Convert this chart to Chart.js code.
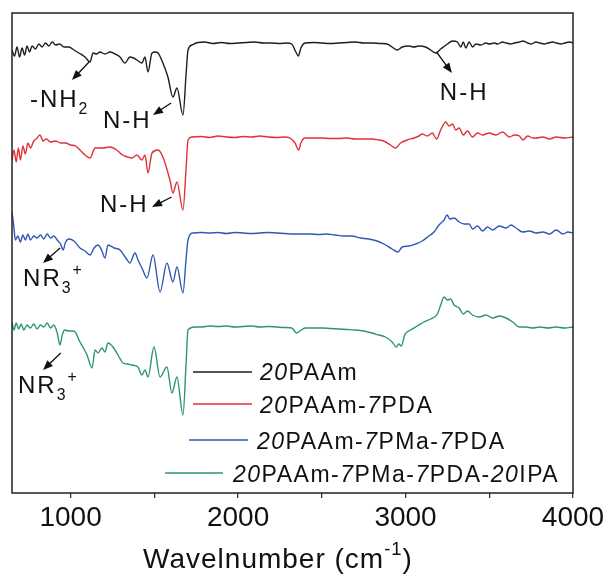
<!DOCTYPE html>
<html>
<head>
<meta charset="utf-8">
<script src="https://cdn.jsdelivr.net/npm/chart.js@4.4.1/dist/chart.umd.min.js"></script>
<style>
  html, body { margin: 0; padding: 0; background: #fff; }
</style>
</head>
<body>
<canvas id="ftir" width="610" height="576"></canvas>
<script>
// FTIR spectra, [wavenumber, transmittance relative to the trace's own baseline]
const seriesNames = ["20PAAm", "20PAAm-7PDA", "20PAAm-7PMa-7PDA", "20PAAm-7PMa-7PDA-20IPA"];
const seriesColors = ["#1e1e1e", "#e0313b", "#2f58b4", "#2b9670"];
const stackOffsets = [450, 356, 260, 166];
const xTicks = [1000, 1500, 2000, 2500, 3000, 3500, 4000];

const specPAAm = [
  [650,-7],[665,-13],[680,-4],[695,-14],[710,-5],[725,-12],[740,-3],[755,-9],[770,-3],[790,-6],
  [810,-1],[830,-4],[850,0],[870,-3],[890,1],[910,-2],[935,-1],[960,-4],[990,-4],[1020,-7],
  [1050,-10],[1086,-14],[1116,-19],[1134,-10],[1155,-11],[1175,-9],[1205,-11],[1235,-9],[1265,-11],[1295,-14],
  [1325,-20],[1354,-14],[1375,-15],[1396,-17],[1426,-20],[1444,-14],[1462,-29],[1486,-10],[1505,-9],[1522,-10],
  [1551,-20],[1581,-34],[1611,-54],[1635,-45],[1671,-72],[1690,-30],[1701,-7],[1725,-2],[1760,0.5],[1800,1],
  [1850,-0.5],[1900,0.5],[1950,-0.5],[2000,0],[2050,0.5],[2100,1],[2150,0],[2200,0],[2250,-0.5],[2290,0],
  [2320,-1],[2345,-9],[2360,-13],[2375,-5],[2400,0],[2450,0.5],[2500,0],[2550,-0.5],[2600,0],[2650,0.5],
  [2700,1],[2750,0],[2800,0],[2850,-0.5],[2890,-1],[2920,-4],[2950,-7],[2980,-4],[3020,-3],[3050,-4],
  [3080,-3],[3120,-4],[3150,-7],[3180,-10],[3210,-6],[3250,-1],[3280,2],[3310,1],[3330,-4],[3345,1],
  [3360,-5],[3380,1],[3400,-4],[3420,-1],[3450,-2],[3480,0],[3500,-1],[3530,0],[3550,-1],[3580,1],
  [3600,0],[3630,-1],[3650,0],[3680,1],[3700,2],[3730,0],[3750,-1],[3780,1],[3800,0],[3830,-1],
  [3850,0],[3880,1],[3900,0],[3930,-1],[3950,0],[3980,1],[4000,0]
];

const specPDA = [
  [650,-23],[662,-13],[675,-25],[688,-11],[700,-23],[715,-9],[730,-17],[745,-6],[760,-11],[780,-4],
  [800,-1],[817,2],[835,-4],[855,-2],[880,-5],[910,-4],[940,-6],[970,-6],[1000,-8],[1030,-9],
  [1056,-13],[1086,-18],[1116,-21],[1146,-11],[1190,-11],[1235,-10],[1275,-13],[1310,-18],[1340,-20],[1366,-21],
  [1396,-18],[1426,-23],[1444,-18],[1462,-36],[1486,-16],[1522,-13],[1551,-20],[1593,-43],[1611,-56],[1635,-45],
  [1671,-73],[1690,-30],[1701,-3],[1725,0],[1780,0.5],[1830,-0.5],[1880,1],[1930,0],[1980,-0.5],[2030,0.5],
  [2080,0],[2130,1],[2180,0],[2230,-0.5],[2280,0],[2310,-1],[2340,-6],[2362,-13],[2375,-6],[2400,-1],
  [2450,-1],[2500,-1],[2550,-1.5],[2600,-1.5],[2650,-1],[2700,-2],[2750,-2],[2800,-2],[2840,-3],[2870,-4],
  [2910,-8],[2940,-11],[2970,-6],[3010,-3],[3050,-1],[3080,1],[3100,3],[3130,1],[3160,4],[3185,-2],
  [3210,7],[3240,15],[3260,11],[3280,13],[3300,7],[3320,9],[3345,2],[3370,6],[3400,0],[3430,4],
  [3460,2],[3500,4],[3540,2],[3580,5],[3620,0],[3650,2],[3680,1],[3700,-3],[3730,1],[3760,-1],
  [3780,-1],[3820,0],[3860,-2],[3900,0],[3950,-1],[4000,0]
];

const specPMa = [
  [650,21],[660,8],[670,-7],[685,-3],[700,-9],[715,-2],[730,-7],[745,-1],[760,-7],[780,-3],
  [800,-5],[820,-2],[840,-6],[860,-1],[880,-5],[900,-3],[920,-7],[940,-11],[955,-17],[970,-9],
  [990,-6],[1020,-8],[1056,-15],[1086,-18],[1116,-22],[1140,-15],[1163,-12],[1185,-17],[1205,-25],[1223,-12],
  [1260,-15],[1295,-17],[1330,-25],[1354,-30],[1384,-20],[1405,-28],[1426,-35],[1456,-45],[1492,-22],[1534,-59],
  [1575,-30],[1611,-49],[1635,-34],[1671,-60],[1690,-25],[1701,-7],[1730,0],[1780,0.5],[1830,0],[1880,0.5],
  [1930,-0.5],[1980,0.5],[2030,0],[2080,-0.5],[2130,0],[2180,0.5],[2230,0],[2280,-0.5],[2330,-1],[2380,-1],
  [2430,-1],[2480,-1.5],[2530,-1],[2580,-2],[2630,-3],[2680,-3],[2730,-5],[2780,-6],[2830,-8],[2870,-11],
  [2920,-16],[2955,-19],[2980,-14],[3020,-13],[3060,-11],[3100,-8],[3140,-3],[3170,1],[3200,8],[3230,13],
  [3248,18],[3265,14],[3290,15],[3320,11],[3350,9],[3380,9],[3400,4],[3430,7],[3460,2],[3490,6],
  [3520,3],[3560,7],[3600,5],[3630,8],[3660,5],[3700,1],[3740,2],[3780,0],[3820,1],[3860,-1],
  [3900,3],[3940,-1],[3970,1],[4000,0]
];

const specIPA = [
  [650,5],[662,-3],[675,4],[690,-2],[705,3],[720,-3],[740,2],[760,-1],[780,3],[800,-2],
  [820,2],[840,0],[860,4],[880,-1],[900,2],[920,-6],[936,-18],[950,-8],[965,-3],[990,-4],
  [1020,-4],[1056,-15],[1080,-22],[1098,-28],[1128,-41],[1146,-23],[1163,-26],[1187,-21],[1205,-25],[1223,-16],
  [1253,-20],[1283,-28],[1313,-36],[1340,-37],[1366,-38],[1402,-40],[1426,-48],[1444,-43],[1462,-50],[1498,-20],
  [1534,-50],[1575,-40],[1605,-66],[1635,-50],[1671,-88],[1690,-35],[1701,-3],[1742,0],[1780,0],[1830,1],
  [1880,0.5],[1930,1],[1980,0],[2030,0.5],[2080,1],[2130,0],[2180,0.5],[2230,0],[2280,-0.5],[2320,-1],
  [2350,-6],[2370,-4],[2400,-1],[2450,-1],[2500,-1],[2550,-1.5],[2600,-2],[2650,-2.5],[2700,-3],[2750,-4],
  [2800,-6],[2840,-8],[2880,-10],[2920,-15],[2945,-20],[2960,-17],[2975,-19],[2995,-8],[3030,-3],[3070,1],
  [3110,5],[3150,8],[3190,13],[3210,22],[3230,30],[3250,27],[3270,28],[3290,22],[3320,19],[3345,13],
  [3370,16],[3400,12],[3440,10],[3480,12],[3520,9],[3560,11],[3600,9],[3640,5],[3680,0],[3720,0],
  [3760,-1],[3800,0],[3850,-1],[3900,0],[3950,-1],[4000,0]
];

const spectra = [specPAAm, specPDA, specPMa, specIPA];

// band assignments: text anchor and arrow (tail on the band -> head) in data units
const bandNotes = [
  { runs: [["-NH"], ["2", "sub"]], at: [757, 386], arrow: [[1110, 431], [1008, 413]] },
  { runs: [["N-H"]], at: [1193, 365], arrow: [[1600, 390], [1492, 378]] },
  { runs: [["N-H"]], at: [3205, 393], arrow: [[3185, 441], [3277, 420]] },
  { runs: [["N-H"]], at: [1175, 281], arrow: [[1603, 296], [1486, 286]] },
  { runs: [["NR"], ["3", "sub"], ["+", "sup"]], at: [716, 207], arrow: [[937, 245], [835, 230]] },
  { runs: [["NR"], ["3", "sub"], ["+", "sup"]], at: [686, 100], arrow: [[941, 140], [835, 123]] }
];

const FONT = '"Liberation Sans", Arial, sans-serif';

function drawRuns(ctx, runs, x, base, size, spacing) {
  let cx = x;
  runs.forEach(([t, kind, italic]) => {
    let s = size, dy = 0;
    if (kind === "sub") { s = size * 0.66; dy = size * 0.28; }
    if (kind === "sup") { s = size * 0.66; dy = -size * 0.45; }
    ctx.font = (italic ? "italic " : "") + s + "px " + FONT;
    ctx.letterSpacing = spacing + "px";
    ctx.fillText(t, cx, base + dy);
    cx += ctx.measureText(t).width;
  });
  return cx;
}

function runsWidth(ctx, runs, size, spacing) {
  let w = 0;
  runs.forEach(([t, kind, italic]) => {
    const s = kind ? size * 0.66 : size;
    ctx.font = (italic ? "italic " : "") + s + "px " + FONT;
    ctx.letterSpacing = spacing + "px";
    w += ctx.measureText(t).width;
  });
  return w;
}

function arrow(ctx, x1, y1, x2, y2) {
  const ang = Math.atan2(y2 - y1, x2 - x1);
  const hl = 10, hw = 4;
  ctx.beginPath();
  ctx.moveTo(x1, y1);
  ctx.lineTo(x2 - Math.cos(ang) * hl * 0.8, y2 - Math.sin(ang) * hl * 0.8);
  ctx.stroke();
  ctx.beginPath();
  ctx.moveTo(x2, y2);
  ctx.lineTo(x2 - Math.cos(ang) * hl - Math.sin(ang) * hw, y2 - Math.sin(ang) * hl + Math.cos(ang) * hw);
  ctx.lineTo(x2 - Math.cos(ang) * hl + Math.sin(ang) * hw, y2 - Math.sin(ang) * hl - Math.cos(ang) * hw);
  ctx.closePath();
  ctx.fill();
}

// legend rows: line start/end, line y, text x, text baseline
const legendRows = [
  [193, 252, 372, 260, 380],
  [193, 252, 404, 260, 413],
  [189, 248, 440, 257, 449],
  [165, 223, 473, 233, 482]
];

const decorations = {
  id: "decorations",
  afterDatasetsDraw(chart) {
    const { ctx, chartArea: a, scales: { x, y } } = chart;
    ctx.save();
    ctx.strokeStyle = "#222";
    ctx.lineWidth = 1.5;
    ctx.strokeRect(a.left, a.top, a.right - a.left, a.bottom - a.top);

    ctx.fillStyle = "#111";
    ctx.strokeStyle = "#111";
    ctx.lineWidth = 1.3;
    ctx.textBaseline = "alphabetic";
    bandNotes.forEach(n => {
      drawRuns(ctx, n.runs, x.getPixelForValue(n.at[0]), y.getPixelForValue(n.at[1]), 24, 2);
      const [[ax, ay], [bx, by]] = n.arrow;
      arrow(ctx, x.getPixelForValue(ax), y.getPixelForValue(ay), x.getPixelForValue(bx), y.getPixelForValue(by));
    });

    // legend, numerals in italics
    seriesNames.forEach((name, i) => {
      const [l1, l2, ly, tx, tb] = legendRows[i];
      ctx.strokeStyle = seriesColors[i];
      ctx.lineWidth = 1.3;
      ctx.beginPath();
      ctx.moveTo(l1, ly);
      ctx.lineTo(l2, ly);
      ctx.stroke();
      const runs = name.split(/(\d+)/).filter(s => s).map(s => [s, null, /\d/.test(s)]);
      ctx.fillStyle = "#111";
      drawRuns(ctx, runs, tx, tb, 23, 1.5);
    });

    // axis title
    const title = [["Wavelnumber (cm"], ["-1", "sup"], [")"]];
    const w = runsWidth(ctx, title, 28, 1);
    drawRuns(ctx, title, 278 - w / 2, 568, 28, 1);
    ctx.restore();
  }
};

new Chart(document.getElementById("ftir"), {
  type: "line",
  data: {
    datasets: spectra.map((s, i) => ({
      label: seriesNames[i],
      data: s.map(([wn, t]) => ({ x: wn, y: stackOffsets[i] + t })),
      borderColor: seriesColors[i],
      borderWidth: 1.4,
      pointRadius: 0,
      cubicInterpolationMode: "monotone",
      fill: false
    }))
  },
  options: {
    responsive: false,
    animation: false,
    devicePixelRatio: 1,
    layout: { padding: { left: 12, right: 37, top: 13, bottom: 0 } },
    plugins: { legend: { display: false }, tooltip: { enabled: false } },
    scales: {
      x: {
        type: "linear",
        min: 650,
        max: 4000,
        afterBuildTicks: scale => { scale.ticks = xTicks.map(v => ({ value: v })); },
        afterFit: scale => { scale.height = 83; },
        ticks: {
          autoSkip: false,
          maxRotation: 0,
          padding: 3,
          color: "#111",
          font: { family: FONT, size: 28 },
          callback: v => (v % 1000 === 0 ? String(v) : "")
        },
        grid: { drawOnChartArea: false, drawTicks: true, tickLength: 5, color: "#333", lineWidth: 1.3 },
        border: { display: false }
      },
      y: { display: false, min: 0, max: 480 }
    }
  },
  plugins: [decorations]
});
</script>
</body>
</html>
